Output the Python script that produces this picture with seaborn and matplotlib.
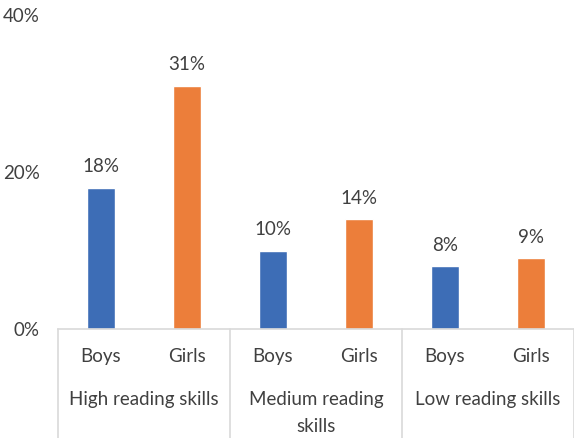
import matplotlib
matplotlib.use("Agg")
import matplotlib.pyplot as plt
import matplotlib.transforms as mtransforms
import seaborn as sns
import pandas as pd

groups = ["High reading skills", "Medium reading\nskills", "Low reading skills"]
genders = ["Boys", "Girls"]
boys = [18, 10, 8]
girls = [31, 14, 9]
yticks = [0, 20, 40]

rows = []
for g, b, gi in zip(groups, boys, girls):
    rows.append((g, "Boys", b))
    rows.append((g, "Girls", gi))
df = pd.DataFrame(rows, columns=["group", "gender", "value"])
df["key"] = [f"{i}" for i in range(len(df))]

sns.set_style("white")
plt.rcParams["font.family"] = ["Lato", "DejaVu Sans"]
text_color = "#404040"
fs = 13.5

fig = plt.figure(figsize=(5.74, 4.38), dpi=100)
ax = fig.add_axes([58/574, 109/438, 516/574, 314/438])

sns.barplot(data=df, x="key", y="value", hue="gender",
            palette={"Boys": "#3D6DB6", "Girls": "#EC7E3A"},
            width=0.32, dodge=False, legend=False, ax=ax, saturation=1)

for c in ax.containers:
    ax.bar_label(c, labels=[f"{v:.0f}%" if v == v else "" for v in c.datavalues],
                 padding=9, fontsize=fs, color=text_color)

ax.set_xlim(-0.5, 5.5)
ax.set_ylim(0, 40)
ax.set_yticks(yticks)
ax.set_yticklabels([f"{v}%" for v in yticks], fontsize=fs, color=text_color)
ax.tick_params(axis="y", length=0, pad=13)
ax.set_xticks(range(6))
ax.set_xticklabels([g for g in df["gender"]], fontsize=fs, color=text_color)
ax.tick_params(axis="x", length=0, pad=14)
ax.set_xlabel("")
ax.set_ylabel("")
for s in ["top", "right", "left"]:
    ax.spines[s].set_visible(False)
ax.spines["bottom"].set_color("#D9D9D9")
ax.spines["bottom"].set_linewidth(1.2)

trans = mtransforms.blended_transform_factory(ax.transData, ax.transAxes)
for xsep in [-0.5, 1.5, 3.5, 5.5]:
    ax.plot([xsep, xsep], [0, -0.36], transform=trans, color="#D9D9D9",
            lw=1.2, clip_on=False)

for i, g in enumerate(groups):
    ax.text(2 * i + 0.5, -62/314, g, transform=trans, ha="center", va="top",
            fontsize=fs, color=text_color, linespacing=1.7)

fig.savefig("out.png", dpi=100)
